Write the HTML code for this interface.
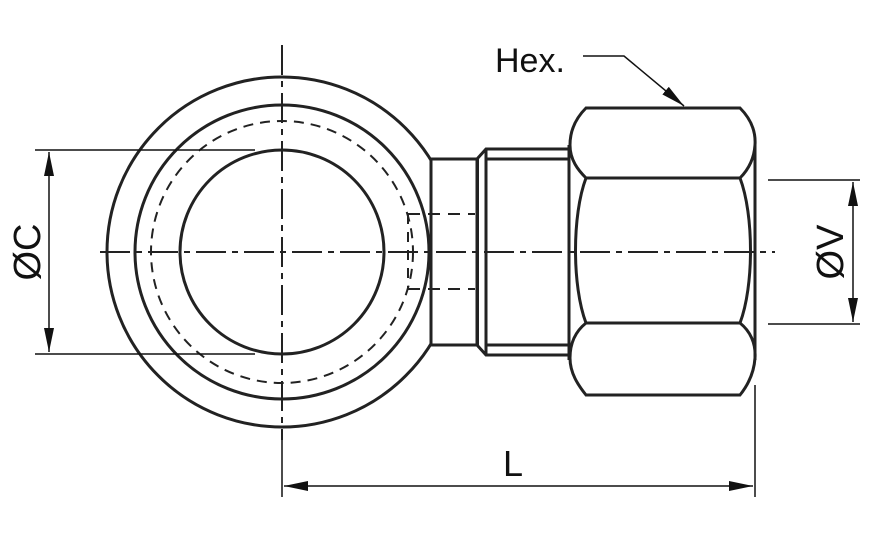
<!DOCTYPE html>
<html><head><meta charset="utf-8"><style>html,body{margin:0;padding:0;background:#fff}svg{display:block}</style></head>
<body>
<svg width="879" height="542" viewBox="0 0 879 542" xmlns="http://www.w3.org/2000/svg">
<defs>
<marker id="a" viewBox="0 0 10 10" refX="10" refY="5" markerWidth="10" markerHeight="10" markerUnits="userSpaceOnUse" orient="auto-start-reverse"><path d="M0,0 L10,5 L0,10 z" fill="#111"/></marker>
<marker id="b" viewBox="0 0 24 10" refX="24" refY="5" markerWidth="24" markerHeight="10" markerUnits="userSpaceOnUse" orient="auto-start-reverse"><path d="M0,0 L24,5 L0,10 z" fill="#111"/></marker>
</defs>
<g fill="none" stroke="#222" stroke-width="3">
<circle cx="282" cy="252" r="175"/>
<circle cx="282" cy="252" r="147"/>
<circle cx="282" cy="252" r="102"/>
<circle cx="282" cy="252" r="131" stroke-width="2" stroke-dasharray="10,7"/>
<rect x="431" y="159" width="46" height="186" fill="#fff"/>
<path d="M477,159 L486,149 H570 M477,345 L486,355 H570 M486,149 V355 M486,159 H570 M486,345 H570" />
<line x1="478" y1="159" x2="478" y2="345" stroke-width="2"/>
<path d="M586,108 H740 C750,118 756,130 755,145 C754,160 748,170 740,178 H586 C578,170 570,160 570,145 C570,130 576,118 586,108 Z"/>
<path d="M586,323 H740 C750,331 756,343 755,358 C754,373 748,385 740,395 H586 C578,385 570,373 570,358 C570,343 576,331 586,323 Z"/>
<path d="M586,178 C572,215 572,286 586,323 M740,178 C754,215 754,286 740,323"/>
<path d="M569,145 V360 M755,145 V360"/>
</g>
<g stroke="#222" stroke-width="2" fill="none">
<path d="M408,214 H475 M408,289 H475" stroke-dasharray="12,8"/>
<path d="M408,214 V289" stroke-dasharray="10,8"/>
<path d="M100,252 H775" stroke-dasharray="30,6,6,6"/>
<path d="M282,45 V440" stroke-dasharray="30,6,6,6"/>
</g>
<g stroke="#111" stroke-width="1.5" fill="none">
<path d="M35,150 H255 M35,354 H255"/>
<line x1="49" y1="152" x2="49" y2="352" marker-start="url(#b)" marker-end="url(#b)"/>
<path d="M768,180 H860 M768,324 H860"/>
<line x1="853" y1="182" x2="853" y2="322" marker-start="url(#b)" marker-end="url(#b)"/>
<path d="M282,440 V497 M755,385 V497"/>
<line x1="284" y1="486" x2="753" y2="486" marker-start="url(#b)" marker-end="url(#b)"/>
<path d="M583,56 H624 L684,106" marker-end="url(#b)"/>
</g>
<g font-family="Liberation Sans, sans-serif" fill="#111" font-size="38">
<text x="495" y="72" font-size="34">Hex.</text>
<text x="503" y="476" font-size="36">L</text>
<text transform="translate(40,252) rotate(-90)" text-anchor="middle">ØC</text>
<text transform="translate(843,252) rotate(-90)" text-anchor="middle">ØV</text>
</g>
</svg>
</body></html>
